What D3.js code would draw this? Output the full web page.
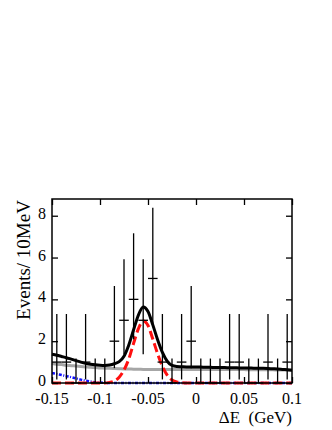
<!DOCTYPE html>
<html>
<head>
<meta charset="utf-8">
<script src="https://cdn.jsdelivr.net/npm/d3@7"></script>
<style>
  body { margin: 0; background: #fff; }
  svg text { font-family: "Liberation Serif", "DejaVu Serif", serif; fill: #000; }
</style>
</head>
<body>
<svg class="vis" width="332" height="430"></svg>
<script>
// binned data, 10 MeV bins from -0.15 to 0.10 GeV
const binLow = -0.15;
const binWidth = 0.01;
const counts = [1, 1, 0, 1, 0, 0, 2, 3, 4, 3, 5, 1, 0, 1, 2, 0, 0, 0, 1, 1, 0, 0, 1, 0, 1];
const errLow = [0.83, 0.83, 0, 0.83, 0, 0, 1.29, 1.63, 1.91, 1.63, 2.16, 0.83, 0, 0.83, 1.29, 0, 0, 0, 0.83, 0.83, 0, 0, 0.83, 0, 0.83];
const errHigh = [2.3, 2.3, 1.17, 2.3, 1.17, 1.17, 2.64, 2.92, 3.16, 2.92, 3.38, 2.3, 1.17, 2.3, 2.64, 1.17, 1.17, 1.17, 2.3, 2.3, 1.17, 1.17, 2.3, 1.17, 2.3];

// fit curves sampled every 5 MeV from -0.15 to 0.10
const curveStep = 0.005;
const totalFit = [1.38, 1.33, 1.27, 1.21, 1.14, 1.07, 1.00, 0.94, 0.90, 0.87, 0.85, 0.84, 0.86, 0.92, 1.02, 1.28, 1.82,
  2.55, 3.25, 3.64, 3.42, 2.78, 2.07, 1.46, 1.04, 0.84, 0.79, 0.78, 0.77, 0.77, 0.76, 0.76, 0.75, 0.75, 0.74, 0.74,
  0.74, 0.73, 0.73, 0.72, 0.72, 0.72, 0.71, 0.71, 0.70, 0.69, 0.68, 0.67, 0.65, 0.63, 0.61];
const combBkg = [0.93, 0.90, 0.88, 0.85, 0.83, 0.81, 0.79, 0.77, 0.75, 0.74, 0.72, 0.71, 0.70, 0.69, 0.68, 0.67, 0.67,
  0.66, 0.66, 0.65, 0.65, 0.65, 0.65, 0.64, 0.64, 0.64, 0.64, 0.64, 0.64, 0.64, 0.64, 0.64, 0.64, 0.64, 0.64, 0.64,
  0.64, 0.64, 0.64, 0.64, 0.64, 0.63, 0.63, 0.63, 0.63, 0.63, 0.63, 0.62, 0.62, 0.62, 0.62];
const peakBkg = [0.48, 0.43, 0.38, 0.33, 0.28, 0.22, 0.16, 0.11, 0.07, 0.04, 0.02, 0.01, 0, 0, 0, 0, 0,
  0, 0, 0, 0, 0, 0, 0, 0, 0, 0, 0, 0, 0, 0, 0, 0, 0, 0, 0,
  0, 0, 0, 0, 0, 0, 0, 0, 0, 0, 0, 0, 0, 0, 0];
const signal = [0, 0, 0, 0, 0, 0, 0, 0, 0, 0, 0, 0, 0.03, 0.10, 0.28, 0.62, 1.15,
  1.90, 2.60, 2.96, 2.75, 2.10, 1.40, 0.80, 0.38, 0.15, 0.05, 0.02, 0, 0, 0, 0, 0, 0, 0, 0,
  0, 0, 0, 0, 0, 0, 0, 0, 0, 0, 0, 0, 0, 0, 0];

const xTicks = [-0.15, -0.1, -0.05, 0, 0.05, 0.1];
const xTickLabels = ["-0.15", "-0.1", "-0.05", "0", "0.05", "0.1"];
const yTicks = [0, 2, 4, 6, 8];
const xTitle = "\u0394E\u00a0\u00a0(GeV)";
const yTitle = "Events/ 10MeV";

const v = {

  box : { left : 52, right : 292, top : 199, bottom : 383 },

  x : null,
  y : null,

  draw : () => {

    const svg = d3.select("svg.vis");
    const b = v.box;

    v.x = d3.scaleLinear().domain([-0.15, 0.1]).range([b.left, b.right]);
    v.y = d3.scaleLinear().domain([0, 8.8]).range([b.bottom, b.top]);
    const x = v.x, y = v.y;

    // curves
    const line = (vals) => d3.line()
      .x((d, i) => x(binLow + i * curveStep))
      .y(d => y(d))
      .curve(d3.curveMonotoneX)(vals);

    const g = svg.append("g");
    g.append("path").attr("d", line(combBkg))
      .attr("fill", "none").attr("stroke", "#a6a6a6").attr("stroke-width", 3);
    g.append("path").attr("d", line(peakBkg))
      .attr("fill", "none").attr("stroke", "#1010ff").attr("stroke-width", 2.5)
      .attr("stroke-dasharray", "3,1.5,1,1.5");
    g.append("path").attr("d", line(signal))
      .attr("fill", "none").attr("stroke", "#ff1010").attr("stroke-width", 3)
      .attr("stroke-dasharray", "9,4");
    g.append("path").attr("d", line(totalFit))
      .attr("fill", "none").attr("stroke", "#000").attr("stroke-width", 3);

    // data points with error bars
    const pts = svg.append("g").attr("stroke", "#000").attr("stroke-width", 1.3);
    counts.forEach((c, i) => {
      const lo = binLow + i * binWidth;
      const xc = x(lo + binWidth / 2);
      pts.append("line")
        .attr("x1", xc).attr("x2", xc)
        .attr("y1", y(c - errLow[i])).attr("y2", y(c + errHigh[i]));
      pts.append("line")
        .attr("x1", x(lo)).attr("x2", x(lo + binWidth))
        .attr("y1", y(c)).attr("y2", y(c));
    });

    // frame
    svg.append("rect")
      .attr("x", b.left).attr("y", b.top)
      .attr("width", b.right - b.left).attr("height", b.bottom - b.top)
      .attr("fill", "none").attr("stroke", "#000").attr("stroke-width", 1.5);

    // inner ticks on all four sides
    svg.append("g").attr("transform", `translate(0,${b.bottom})`)
      .call(d3.axisTop(x).tickValues(xTicks).tickSize(6).tickFormat(""))
      .call(a => a.select(".domain").remove());
    svg.append("g").attr("transform", `translate(0,${b.top})`)
      .call(d3.axisBottom(x).tickValues(xTicks).tickSize(6).tickFormat(""))
      .call(a => a.select(".domain").remove());
    svg.append("g").attr("transform", `translate(${b.left},0)`)
      .call(d3.axisRight(y).tickValues(yTicks).tickSize(6).tickFormat(""))
      .call(a => a.select(".domain").remove());
    svg.append("g").attr("transform", `translate(${b.right},0)`)
      .call(d3.axisLeft(y).tickValues(yTicks).tickSize(6).tickFormat(""))
      .call(a => a.select(".domain").remove());
    svg.selectAll(".tick line").attr("stroke-width", 1.3);

    // tick labels
    svg.append("g").selectAll("text").data(xTicks).join("text")
      .attr("x", d => x(d)).attr("y", 404)
      .attr("text-anchor", "middle").attr("font-size", 16)
      .text((d, i) => xTickLabels[i]);
    svg.append("g").selectAll("text").data(yTicks).join("text")
      .attr("x", 46).attr("y", d => y(d) + 3)
      .attr("text-anchor", "end").attr("font-size", 16)
      .text(d => d);

    // titles
    svg.append("text")
      .attr("x", b.right).attr("y", 423)
      .attr("text-anchor", "end").attr("font-size", 17)
      .text(xTitle);
    svg.append("text")
      .attr("transform", "translate(30,260) rotate(-90)")
      .attr("text-anchor", "middle").attr("font-size", 19)
      .text(yTitle);
  }
};

v.draw();
</script>
</body>
</html>
